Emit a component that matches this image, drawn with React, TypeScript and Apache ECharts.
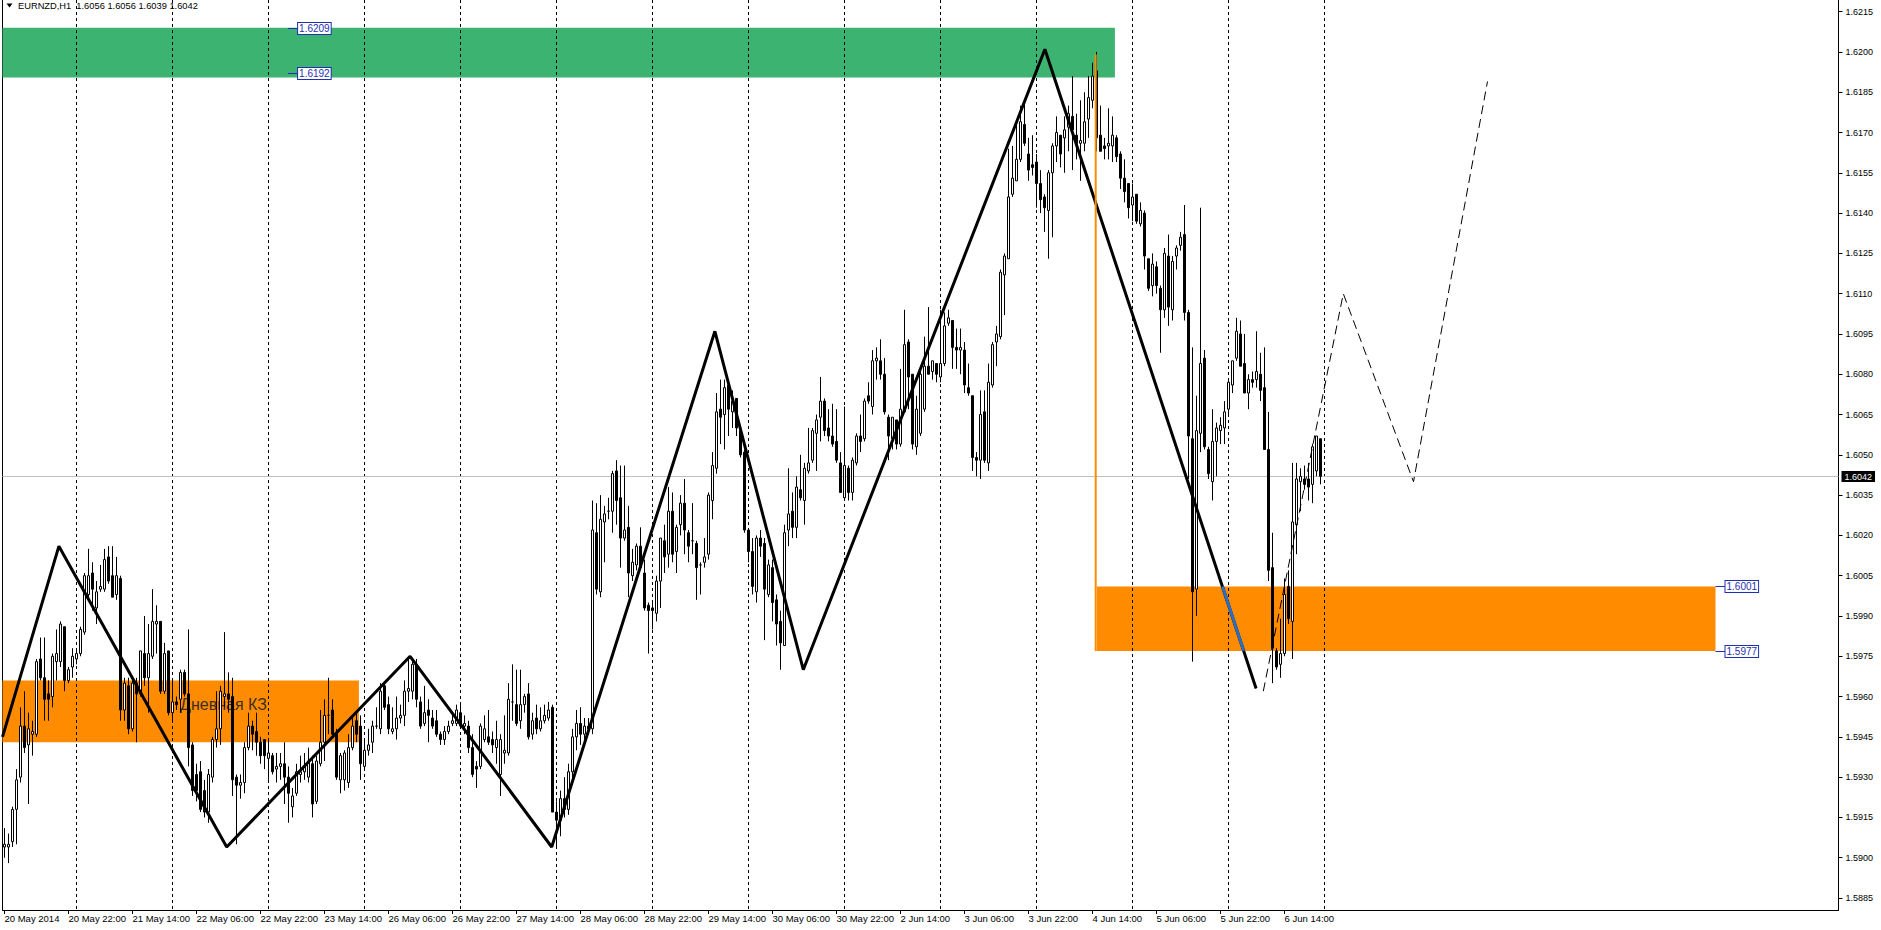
import React, { useEffect, useRef } from "react";
import * as echarts from "echarts";

// ---------------- data ----------------
const symbolName = "EURNZD,H1";
const tradingDays = ["20 May", "21 May", "22 May", "23 May", "26 May", "27 May", "28 May", "29 May", "30 May", "2 Jun", "3 Jun", "4 Jun", "5 Jun", "6 Jun"];
const firstSessionHour = 6;
const emptySlotsRight = 129;

const xTickLabels = ["20 May 2014", "20 May 22:00", "21 May 14:00", "22 May 06:00", "22 May 22:00", "23 May 14:00", "26 May 06:00", "26 May 22:00", "27 May 14:00", "28 May 06:00", "28 May 22:00", "29 May 14:00", "30 May 06:00", "30 May 22:00", "2 Jun 14:00", "3 Jun 06:00", "3 Jun 22:00", "4 Jun 14:00", "5 Jun 06:00", "5 Jun 22:00", "6 Jun 14:00"];
const xTickStep = 16;

const priceTicks = [1.5885, 1.5900, 1.5915, 1.5930, 1.5945, 1.5960, 1.5975, 1.5990, 1.6005, 1.6020, 1.6035, 1.6050, 1.6065, 1.6080, 1.6095, 1.6110, 1.6125, 1.6140, 1.6155, 1.6170, 1.6185, 1.6200, 1.6215];

const opens = [
  1.5904,1.5904,1.5906,1.5918,1.5930,1.5949,1.5942,1.5946,1.5946,1.5974,
  1.5967,1.5961,1.5960,1.5973,1.5973,1.5986,1.5966,1.5971,1.5974,1.5976,
  1.5984,1.5998,1.6006,1.5993,1.6000,1.6000,1.6012,1.6005,1.5998,1.6004,
  1.5955,1.5964,1.5948,1.5965,1.5961,1.5976,1.5967,1.5975,1.5987,1.5988,
  1.5962,1.5977,1.5954,1.5958,1.5959,1.5969,1.5961,1.5942,1.5931,1.5932,
  1.5925,1.5917,1.5930,1.5944,1.5948,1.5960,1.5961,1.5960,1.5930,1.5927,
  1.5928,1.5941,1.5949,1.5947,1.5943,1.5944,1.5937,1.5938,1.5933,1.5934,
  1.5935,1.5930,1.5919,1.5924,1.5931,1.5932,1.5930,1.5935,1.5921,1.5935,
  1.5943,1.5953,1.5955,1.5946,1.5929,1.5929,1.5928,1.5941,1.5951,1.5949,
  1.5934,1.5940,1.5943,1.5949,1.5948,1.5964,1.5957,1.5947,1.5948,1.5952,
  1.5953,1.5962,1.5962,1.5972,1.5958,1.5950,1.5955,1.5952,1.5951,1.5946,
  1.5944,1.5947,1.5950,1.5950,1.5954,1.5949,1.5949,1.5941,1.5934,1.5934,
  1.5944,1.5945,1.5944,1.5941,1.5931,1.5939,1.5939,1.5958,1.5957,1.5951,
  1.5957,1.5961,1.5946,1.5952,1.5948,1.5951,1.5952,1.5956,1.5917,1.5914,
  1.5922,1.5918,1.5932,1.5945,1.5950,1.5946,1.5949,1.5948,1.6021,1.5999,
  1.6025,1.6029,1.6029,1.6044,1.6034,1.6019,1.6023,1.6005,1.6009,1.6016,
  1.6006,1.5994,1.5993,1.5991,1.6003,1.6018,1.6013,1.6029,1.6014,1.6024,
  1.6032,1.6021,1.6018,1.6017,1.6009,1.6010,1.6013,1.6033,1.6045,1.6067,
  1.6065,1.6076,1.6066,1.6071,1.6059,1.6051,1.6022,1.6014,1.5999,1.6019,
  1.6017,1.5998,1.6008,1.5996,1.5988,1.5979,1.6022,1.6029,1.6023,1.6037,
  1.6033,1.6044,1.6048,1.6058,1.6064,1.6070,1.6060,1.6057,1.6055,1.6047,
  1.6034,1.6045,1.6036,1.6047,1.6057,1.6056,1.6072,1.6068,1.6085,1.6085,
  1.6080,1.6064,1.6056,1.6063,1.6054,1.6066,1.6092,1.6080,1.6053,1.6058,
  1.6067,1.6083,1.6081,1.6084,1.6079,1.6084,1.6099,1.6100,1.6090,1.6089,
  1.6089,1.6075,1.6072,1.6049,1.6048,1.6066,1.6047,1.6076,1.6092,1.6094,
  1.6117,1.6123,1.6147,1.6152,1.6160,1.6173,1.6162,1.6158,1.6159,1.6151,
  1.6146,1.6141,1.6155,1.6165,1.6169,1.6168,1.6172,1.6176,1.6169,1.6166,
  1.6166,1.6175,1.6182,1.6193,1.6169,1.6165,1.6165,1.6165,1.6168,1.6162,
  1.6153,1.6151,1.6143,1.6147,1.6136,1.6140,1.6123,1.6113,1.6120,1.6112,
  1.6104,1.6124,1.6104,1.6124,1.6128,1.6132,1.6103,1.6056,1.6000,1.6058,
  1.6086,1.6052,1.6040,1.6055,1.6059,1.6060,1.6067,1.6076,1.6086,1.6095,
  1.6084,1.6073,1.6078,1.6078,1.6080,1.6075,1.6052,1.6008,1.5977,1.5972,
  1.5976,1.6001,1.5988,1.6024,1.6040,1.6041,1.6041,1.6039,1.6044,1.6056,
];
const highs = [
  1.5911,1.5909,1.5919,1.5933,1.5956,1.5962,1.5954,1.5951,1.5974,1.5982,
  1.5982,1.5966,1.5976,1.5985,1.5988,1.5986,1.5971,1.5978,1.5978,1.5986,
  1.6006,1.6015,1.6010,1.6003,1.6009,1.6015,1.6016,1.6016,1.6012,1.6005,
  1.5967,1.5967,1.5966,1.5967,1.5977,1.5990,1.5987,1.6000,1.5994,1.5988,
  1.5980,1.5977,1.5966,1.5960,1.5970,1.5970,1.5985,1.5943,1.5935,1.5936,
  1.5929,1.5933,1.5945,1.5962,1.5964,1.5984,1.5969,1.5967,1.5931,1.5931,
  1.5943,1.5954,1.5951,1.5954,1.5945,1.5944,1.5944,1.5939,1.5939,1.5939,
  1.5943,1.5934,1.5926,1.5935,1.5938,1.5939,1.5941,1.5938,1.5938,1.5955,
  1.5959,1.5967,1.5959,1.5948,1.5939,1.5940,1.5946,1.5953,1.5954,1.5953,
  1.5944,1.5948,1.5951,1.5956,1.5965,1.5965,1.5960,1.5956,1.5960,1.5957,
  1.5966,1.5975,1.5974,1.5974,1.5960,1.5964,1.5959,1.5955,1.5955,1.5947,
  1.5949,1.5951,1.5954,1.5957,1.5957,1.5953,1.5951,1.5946,1.5936,1.5950,
  1.5953,1.5955,1.5947,1.5951,1.5946,1.5953,1.5965,1.5972,1.5970,1.5970,
  1.5961,1.5965,1.5954,1.5957,1.5956,1.5957,1.5958,1.5957,1.5921,1.5925,
  1.5930,1.5935,1.5948,1.5955,1.5956,1.5952,1.5952,1.6033,1.6032,1.6035,
  1.6031,1.6034,1.6044,1.6048,1.6046,1.6046,1.6031,1.6015,1.6017,1.6023,
  1.6011,1.5995,1.5995,1.6005,1.6019,1.6024,1.6038,1.6036,1.6024,1.6035,
  1.6041,1.6022,1.6032,1.6018,1.6010,1.6019,1.6036,1.6051,1.6073,1.6078,
  1.6078,1.6077,1.6074,1.6071,1.6060,1.6052,1.6022,1.6019,1.6020,1.6022,
  1.6019,1.6011,1.6011,1.5998,1.5992,1.6024,1.6045,1.6036,1.6042,1.6050,
  1.6047,1.6060,1.6060,1.6065,1.6079,1.6071,1.6067,1.6069,1.6067,1.6051,
  1.6068,1.6046,1.6049,1.6058,1.6065,1.6071,1.6077,1.6089,1.6090,1.6093,
  1.6086,1.6065,1.6064,1.6063,1.6082,1.6104,1.6093,1.6080,1.6072,1.6082,
  1.6094,1.6105,1.6085,1.6084,1.6104,1.6103,1.6104,1.6100,1.6097,1.6097,
  1.6092,1.6084,1.6072,1.6051,1.6074,1.6074,1.6084,1.6092,1.6098,1.6119,
  1.6125,1.6164,1.6165,1.6175,1.6180,1.6181,1.6168,1.6169,1.6162,1.6156,
  1.6147,1.6156,1.6166,1.6176,1.6169,1.6176,1.6180,1.6191,1.6177,1.6182,
  1.6185,1.6191,1.6196,1.6200,1.6180,1.6168,1.6179,1.6176,1.6169,1.6163,
  1.6160,1.6151,1.6151,1.6147,1.6144,1.6141,1.6123,1.6125,1.6122,1.6113,
  1.6127,1.6132,1.6124,1.6128,1.6133,1.6143,1.6104,1.6090,1.6072,1.6142,
  1.6089,1.6053,1.6067,1.6062,1.6064,1.6070,1.6078,1.6085,1.6101,1.6100,
  1.6095,1.6080,1.6081,1.6096,1.6088,1.6090,1.6066,1.6021,1.5978,1.5989,
  1.6004,1.6007,1.6047,1.6047,1.6045,1.6046,1.6047,1.6054,1.6057,1.6056,
];
const lows = [
  1.5900,1.5898,1.5904,1.5905,1.5928,1.5939,1.5920,1.5938,1.5945,1.5966,
  1.5951,1.5951,1.5956,1.5966,1.5971,1.5962,1.5965,1.5967,1.5972,1.5975,
  1.5983,1.5997,1.5992,1.5987,1.5999,1.5999,1.6002,1.5997,1.5996,1.5951,
  1.5951,1.5946,1.5947,1.5943,1.5960,1.5964,1.5954,1.5974,1.5976,1.5961,
  1.5961,1.5953,1.5951,1.5955,1.5954,1.5960,1.5934,1.5923,1.5921,1.5917,
  1.5915,1.5913,1.5928,1.5941,1.5942,1.5956,1.5954,1.5923,1.5905,1.5922,
  1.5924,1.5940,1.5940,1.5938,1.5935,1.5933,1.5929,1.5931,1.5928,1.5929,
  1.5920,1.5913,1.5915,1.5923,1.5928,1.5929,1.5928,1.5915,1.5920,1.5934,
  1.5936,1.5946,1.5945,1.5929,1.5924,1.5925,1.5926,1.5940,1.5943,1.5929,
  1.5933,1.5938,1.5939,1.5948,1.5946,1.5955,1.5946,1.5946,1.5944,1.5950,
  1.5949,1.5958,1.5959,1.5956,1.5948,1.5949,1.5943,1.5948,1.5945,1.5942,
  1.5942,1.5946,1.5949,1.5949,1.5948,1.5946,1.5939,1.5930,1.5926,1.5933,
  1.5943,1.5942,1.5939,1.5935,1.5923,1.5935,1.5938,1.5951,1.5949,1.5948,
  1.5954,1.5944,1.5944,1.5946,1.5947,1.5950,1.5951,1.5917,1.5904,1.5908,
  1.5915,1.5916,1.5928,1.5940,1.5942,1.5944,1.5946,1.5946,1.5998,1.5997,
  1.6010,1.6026,1.6021,1.6024,1.6008,1.6018,1.5997,1.6003,1.6007,1.6007,
  1.5992,1.5976,1.5985,1.5988,1.5993,1.6006,1.6008,1.6010,1.6006,1.6020,
  1.6013,1.6010,1.6013,1.5996,1.5998,1.6008,1.6011,1.6026,1.6043,1.6054,
  1.6052,1.6057,1.6060,1.6057,1.6049,1.6021,1.6010,1.5998,1.5995,1.6012,
  1.5981,1.5997,1.5988,1.5979,1.5970,1.5979,1.6016,1.6019,1.6019,1.6033,
  1.6024,1.6043,1.6047,1.6044,1.6055,1.6057,1.6055,1.6053,1.6047,1.6036,
  1.6033,1.6033,1.6033,1.6046,1.6051,1.6055,1.6069,1.6065,1.6078,1.6078,
  1.6065,1.6048,1.6052,1.6052,1.6053,1.6066,1.6067,1.6052,1.6050,1.6057,
  1.6066,1.6080,1.6078,1.6077,1.6077,1.6083,1.6098,1.6082,1.6082,1.6080,
  1.6073,1.6072,1.6044,1.6042,1.6041,1.6047,1.6044,1.6075,1.6083,1.6093,
  1.6102,1.6123,1.6146,1.6152,1.6159,1.6165,1.6152,1.6154,1.6142,1.6140,
  1.6133,1.6123,1.6131,1.6159,1.6157,1.6155,1.6163,1.6156,1.6160,1.6152,
  1.6163,1.6168,1.6179,1.6163,1.6163,1.6160,1.6160,1.6159,1.6159,1.6149,
  1.6144,1.6138,1.6137,1.6136,1.6135,1.6119,1.6111,1.6109,1.6110,1.6088,
  1.6101,1.6098,1.6100,1.6119,1.6126,1.6100,1.6041,1.5973,1.5990,1.6051,
  1.6052,1.6041,1.6033,1.6042,1.6054,1.6054,1.6065,1.6073,1.6085,1.6083,
  1.6073,1.6067,1.6075,1.6075,1.6070,1.6052,1.6003,1.5965,1.5970,1.5967,
  1.5975,1.5987,1.5974,1.6013,1.6029,1.6037,1.6033,1.6032,1.6042,1.6039,
];
const closes = [
  1.5905,1.5905,1.5918,1.5929,1.5949,1.5941,1.5948,1.5947,1.5973,1.5967,
  1.5959,1.5959,1.5975,1.5976,1.5987,1.5966,1.5970,1.5975,1.5976,1.5985,
  1.6005,1.6005,1.6000,1.5999,1.6001,1.6011,1.6003,1.5997,1.6005,1.5955,
  1.5965,1.5948,1.5965,1.5961,1.5977,1.5967,1.5976,1.5988,1.5988,1.5962,
  1.5976,1.5954,1.5958,1.5957,1.5969,1.5961,1.5941,1.5925,1.5925,1.5918,
  1.5917,1.5931,1.5944,1.5948,1.5962,1.5961,1.5959,1.5929,1.5927,1.5928,
  1.5941,1.5949,1.5946,1.5943,1.5938,1.5938,1.5939,1.5932,1.5934,1.5935,
  1.5930,1.5924,1.5923,1.5932,1.5932,1.5934,1.5936,1.5920,1.5936,1.5943,
  1.5953,1.5953,1.5946,1.5930,1.5938,1.5939,1.5941,1.5949,1.5946,1.5935,
  1.5940,1.5942,1.5949,1.5949,1.5962,1.5956,1.5948,1.5948,1.5952,1.5953,
  1.5962,1.5963,1.5972,1.5959,1.5949,1.5954,1.5953,1.5949,1.5946,1.5944,
  1.5947,1.5949,1.5951,1.5955,1.5949,1.5950,1.5941,1.5931,1.5933,1.5949,
  1.5948,1.5943,1.5942,1.5944,1.5944,1.5940,1.5959,1.5958,1.5950,1.5957,
  1.5960,1.5945,1.5951,1.5948,1.5951,1.5953,1.5955,1.5917,1.5914,1.5922,
  1.5918,1.5932,1.5945,1.5950,1.5946,1.5949,1.5948,1.6022,1.6000,1.6026,
  1.6028,1.6029,1.6043,1.6033,1.6019,1.6022,1.6006,1.6010,1.6016,1.6008,
  1.5993,1.5992,1.5992,1.6003,1.6019,1.6012,1.6029,1.6013,1.6023,1.6032,
  1.6022,1.6016,1.6018,1.6008,1.6009,1.6012,1.6035,1.6046,1.6066,1.6064,
  1.6075,1.6067,1.6070,1.6060,1.6050,1.6022,1.6014,1.6001,1.6019,1.6016,
  1.6000,1.6009,1.5995,1.5987,1.5980,1.6021,1.6028,1.6023,1.6038,1.6034,
  1.6045,1.6047,1.6059,1.6063,1.6070,1.6059,1.6057,1.6054,1.6048,1.6036,
  1.6046,1.6036,1.6048,1.6057,1.6055,1.6070,1.6070,1.6085,1.6086,1.6080,
  1.6066,1.6057,1.6064,1.6054,1.6067,1.6091,1.6079,1.6054,1.6067,1.6080,
  1.6083,1.6080,1.6085,1.6080,1.6084,1.6098,1.6101,1.6090,1.6089,1.6090,
  1.6076,1.6073,1.6049,1.6048,1.6065,1.6048,1.6077,1.6091,1.6095,1.6118,
  1.6124,1.6146,1.6153,1.6160,1.6174,1.6166,1.6156,1.6157,1.6151,1.6145,
  1.6142,1.6155,1.6165,1.6170,1.6162,1.6171,1.6177,1.6171,1.6166,1.6167,
  1.6174,1.6183,1.6191,1.6168,1.6163,1.6164,1.6166,1.6169,1.6161,1.6153,
  1.6148,1.6142,1.6146,1.6137,1.6141,1.6124,1.6112,1.6121,1.6113,1.6104,
  1.6125,1.6105,1.6122,1.6127,1.6131,1.6103,1.6057,1.5999,1.6059,1.6084,
  1.6053,1.6043,1.6055,1.6060,1.6061,1.6066,1.6077,1.6085,1.6096,1.6083,
  1.6073,1.6078,1.6077,1.6081,1.6074,1.6052,1.6007,1.5978,1.5971,1.5976,
  1.5998,1.5989,1.6025,1.6041,1.6042,1.6039,1.6038,1.6053,1.6057,1.6042,
];

// drawn objects (bar position, price)
const greenZone = { fromBar: -0.5, toBar: 277.6, top: 1.6209, bottom: 1.61905 };
const dailyZone = { fromBar: -0.5, toBar: 88.6, top: 1.5966, bottom: 1.5943 };
const orangeZone = { fromBar: 273.1, toBar: 427.75, top: 1.6001, bottom: 1.5977 };
const dailyZoneText = { text: "Дневная КЗ", bar: 43.9, price: 1.5957 };
const orangeMarkerBars = [272.8, 272.8];
const orangeMarkerPrices = [1.6199, 1.5977];
const zigzagBars = [-0.5, 13.6, 55.55, 101.4, 136.8, 177.6, 199.7, 260.1, 312.9];
const zigzagPrices = [1.5945, 1.6016, 1.5904, 1.5975, 1.5904, 1.6096, 1.5970, 1.6201, 1.5963];
const blueLegBars = [304.5, 309.8];
const blueLegPrices = [1.6001, 1.5977];
const forecastBars = [314.7, 334.7, 352.25, 370.75];
const forecastPrices = [1.5962, 1.6110, 1.6040, 1.6189];
const priceTagBars = [70.9, 70.9, 427.75, 427.75];
const priceTagPrices = [1.6209, 1.6192, 1.6001, 1.5977];

// ---------------- layout / style ----------------
const W = 1881, H = 930;
const GRID = { left: 2.5, right: 42.5, top: 0, bottom: 20 };
const Y_MIN = 1.588054, Y_MAX = 1.621933;
const FONT = "'Liberation Sans', Arial, sans-serif";
const TAG_COLOR = "#1f2fb0";

function buildOption() {
  const categories: string[] = [];
  tradingDays.forEach((d, k) => {
    for (let h = k === 0 ? firstSessionHour : 0; h < 24; h++) {
      categories.push(`${d} ${String(h).padStart(2, "0")}:00`);
    }
  });
  const barCount = categories.length;
  const sessionBreaks: number[] = [];
  categories.forEach((c, i) => { if (i > 0 && c.endsWith(" 00:00")) sessionBreaks.push(i); });
  sessionBreaks.push(barCount);
  for (let i = 0; i < emptySlotsRight; i++) categories.push(" " + i);
  const slotCount = categories.length;

  const ohlc = opens.map((o, i) => [o, closes[i], lows[i], highs[i]]);
  const last = barCount - 1;
  const lastClose = closes[last];
  const titleText = `${symbolName}  ${opens[last].toFixed(4)} ${highs[last].toFixed(4)} ${lows[last].toFixed(4)} ${closes[last].toFixed(4)}`;

  const isTick = (idx: number) => idx % xTickStep === 0 && idx / xTickStep < xTickLabels.length;

  const zoneSeries = (z: { fromBar: number; toBar: number; top: number; bottom: number }, color: string) => ({
    type: "custom",
    xAxisIndex: 1,
    yAxisIndex: 0,
    z: 1,
    silent: true,
    clip: true,
    data: [[z.fromBar, z.top, z.toBar, z.bottom]],
    encode: { x: [0, 2], y: [1, 3] },
    renderItem: (_p: any, api: any) => {
      const a = api.coord([api.value(0), api.value(1)]);
      const b = api.coord([api.value(2), api.value(3)]);
      return { type: "rect", shape: { x: a[0], y: a[1], width: b[0] - a[0], height: b[1] - a[1] }, style: { fill: color } };
    },
  });

  return {
    animation: false,
    backgroundColor: "#ffffff",
    graphic: [
      { type: "polygon", shape: { points: [[6.5, 3.5], [12.5, 3.5], [9.5, 7.5]] }, style: { fill: "#000" }, z: 100 },
      { type: "text", x: 18, y: 6, z: 100, style: { text: titleText, fill: "#000", font: `9.3px ${FONT}`, align: "left", verticalAlign: "middle" } },
    ],
    grid: { left: GRID.left, right: GRID.right, top: GRID.top, bottom: GRID.bottom, containLabel: false },
    xAxis: [
      {
        type: "category",
        data: categories,
        boundaryGap: true,
        axisLine: { show: true, lineStyle: { color: "#000", width: 1 } },
        axisTick: { show: true, interval: (i: number) => isTick(i), alignWithLabel: true, length: 4, lineStyle: { color: "#000" } },
        axisLabel: {
          show: true,
          interval: (i: number) => isTick(i),
          formatter: (_v: string, i: number) => xTickLabels[i / xTickStep] ?? "",
          align: "left",
          margin: 3,
          fontSize: 9.5,
          fontFamily: FONT,
          color: "#000",
        },
        splitLine: { show: false },
      },
      { type: "value", min: -0.5, max: slotCount - 0.5, show: false },
    ],
    yAxis: [
      {
        type: "value",
        position: "right",
        min: Y_MIN,
        max: Y_MAX,
        axisLine: { show: true, onZero: false, lineStyle: { color: "#000", width: 1 } },
        axisTick: { show: true, customValues: priceTicks, length: 4, lineStyle: { color: "#000" } },
        axisLabel: { show: true, customValues: priceTicks, formatter: (v: number) => v.toFixed(4), margin: 7, fontSize: 9, fontFamily: FONT, color: "#000" },
        splitLine: { show: false },
      },
      {
        type: "value",
        position: "left",
        min: Y_MIN,
        max: Y_MAX,
        axisLine: { show: true, onZero: false, lineStyle: { color: "#000", width: 1 } },
        axisTick: { show: false },
        axisLabel: { show: false },
        splitLine: { show: false },
      },
    ],
    series: [
      zoneSeries(greenZone, "#3cb371"),
      zoneSeries(dailyZone, "#ff8c00"),
      zoneSeries(orangeZone, "#ff8c00"),
      {
        type: "custom",
        xAxisIndex: 1,
        yAxisIndex: 0,
        z: 2,
        silent: true,
        clip: true,
        data: [[dailyZoneText.bar, dailyZoneText.price]],
        encode: { x: 0, y: 1 },
        renderItem: (_p: any, api: any) => {
          const c = api.coord([api.value(0), api.value(1)]);
          return { type: "text", x: c[0], y: c[1], style: { text: dailyZoneText.text, fill: "#3e2f1c", font: `16px ${FONT}`, align: "left", verticalAlign: "middle" } };
        },
      },
      {
        type: "custom",
        xAxisIndex: 1,
        yAxisIndex: 0,
        z: 3,
        silent: true,
        clip: true,
        data: sessionBreaks.map((b) => [b, Y_MAX]),
        encode: { x: 0, y: 1 },
        renderItem: (params: any, api: any) => {
          const cs = params.coordSys;
          const x = Math.round(api.coord([api.value(0), api.value(1)])[0] - 0.5) + 0.5;
          return { type: "line", shape: { x1: x, y1: cs.y, x2: x, y2: cs.y + cs.height }, style: { stroke: "#000", lineWidth: 1, lineDash: [3, 3] } };
        },
      },
      {
        // bid line with its price box on the axis
        type: "custom",
        xAxisIndex: 1,
        yAxisIndex: 0,
        z: 4,
        silent: true,
        clip: false,
        data: [[last, lastClose]],
        encode: { x: 0, y: 1 },
        renderItem: (params: any, api: any) => {
          const cs = params.coordSys;
          const y = Math.round(api.coord([api.value(0), api.value(1)])[1]) + 0.5;
          return {
            type: "group",
            children: [
              { type: "line", shape: { x1: cs.x, y1: y, x2: cs.x + cs.width, y2: y }, style: { stroke: "#c0c0c0", lineWidth: 1 } },
              {
                type: "text",
                x: cs.x + cs.width + 3,
                y: y,
                style: {
                  text: Number(api.value(1)).toFixed(4),
                  fill: "#fff",
                  font: `9px ${FONT}`,
                  align: "left",
                  verticalAlign: "middle",
                  backgroundColor: "#000",
                  padding: [1, 3, 1, 3],
                },
              },
            ],
          };
        },
      },
      {
        type: "candlestick",
        xAxisIndex: 0,
        yAxisIndex: 0,
        z: 5,
        barWidth: 2,
        silent: true,
        data: ohlc,
        itemStyle: { color: "#ffffff", color0: "#000000", borderColor: "#000000", borderColor0: "#000000", borderColorDoji: "#000000", borderWidth: 1 },
      },
      {
        type: "line",
        xAxisIndex: 1,
        yAxisIndex: 0,
        z: 6,
        silent: true,
        symbol: "none",
        data: zigzagBars.map((b, i) => [b, zigzagPrices[i]]),
        lineStyle: { color: "#000", width: 3 },
      },
      {
        type: "line",
        xAxisIndex: 1,
        yAxisIndex: 0,
        z: 7,
        silent: true,
        symbol: "none",
        data: blueLegBars.map((b, i) => [b, blueLegPrices[i]]),
        lineStyle: { color: "#2b6fc4", width: 3 },
      },
      {
        type: "line",
        xAxisIndex: 1,
        yAxisIndex: 0,
        z: 6,
        silent: true,
        symbol: "none",
        data: forecastBars.map((b, i) => [b, forecastPrices[i]]),
        lineStyle: { color: "#000", width: 1, type: [9, 5] },
      },
      {
        type: "line",
        xAxisIndex: 1,
        yAxisIndex: 0,
        z: 7,
        silent: true,
        symbol: "none",
        data: orangeMarkerBars.map((b, i) => [b, orangeMarkerPrices[i]]),
        lineStyle: { color: "#ff8c00", width: 2 },
      },
      {
        type: "custom",
        xAxisIndex: 1,
        yAxisIndex: 0,
        z: 9,
        silent: true,
        clip: false,
        data: priceTagBars.map((b, i) => [b, priceTagPrices[i]]),
        encode: { x: 0, y: 1 },
        renderItem: (_p: any, api: any) => {
          const c = api.coord([api.value(0), api.value(1)]);
          const y = Math.round(c[1]) + 0.5;
          return {
            type: "group",
            children: [
              { type: "line", shape: { x1: c[0], y1: y, x2: c[0] + 10, y2: y }, style: { stroke: TAG_COLOR, lineWidth: 1 } },
              {
                type: "text",
                x: c[0] + 10,
                y: y,
                style: {
                  text: Number(api.value(1)).toFixed(4),
                  fill: TAG_COLOR,
                  font: `10px ${FONT}`,
                  align: "left",
                  verticalAlign: "middle",
                  backgroundColor: "#fff",
                  borderColor: TAG_COLOR,
                  borderWidth: 1,
                  padding: [1, 1, 0, 1],
                },
              },
            ],
          };
        },
      },
    ],
  };
}

export default function App() {
  const ref = useRef<HTMLDivElement>(null);
  useEffect(() => {
    document.body.style.margin = "0";
    const chart = echarts.init(ref.current!, null, { renderer: "svg" });
    chart.setOption(buildOption() as any);
    return () => chart.dispose();
  }, []);
  return <div ref={ref} style={{ position: "absolute", left: 0, top: 0, width: W, height: H, background: "#fff" }} />;
}
